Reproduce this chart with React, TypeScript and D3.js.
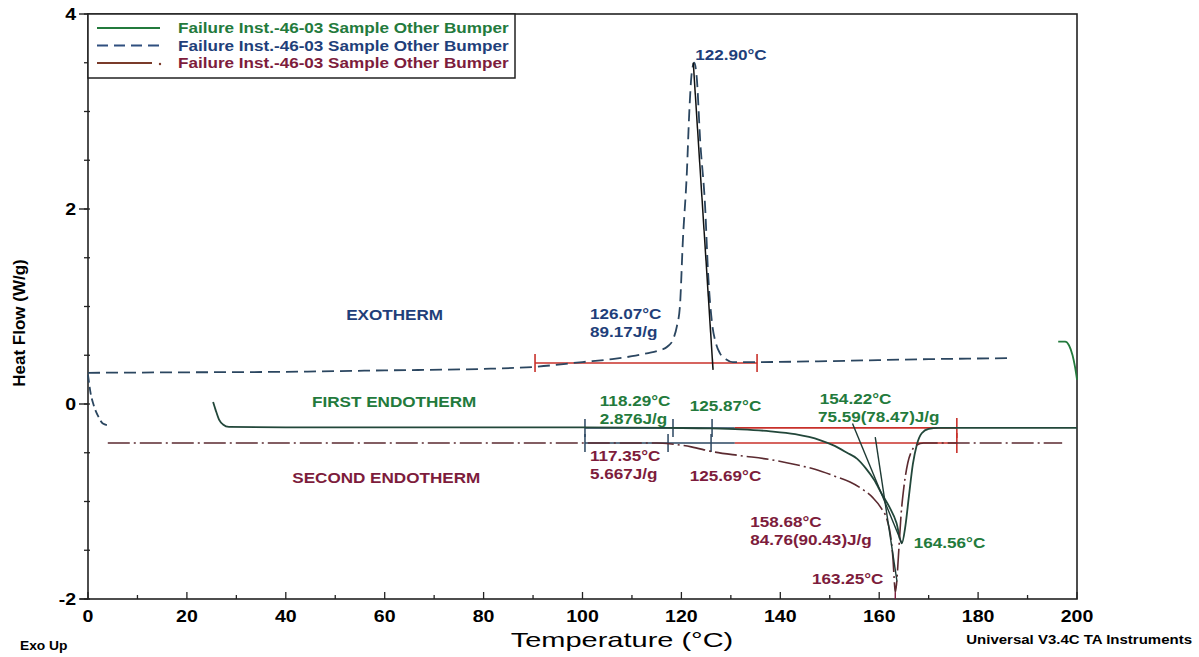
import React from "react";
import * as d3 from "d3";

// DSC thermogram, three runs on one set of axes
const exoTemp = [0, 20, 40, 60, 80, 90, 100, 106, 110, 113, 115.5, 117.2, 118.3, 119.1, 119.7, 120.3, 121.1, 121.6, 122.1, 122.6, 123.1, 123.8, 124.8, 125.4, 126.2, 127, 127.8, 129, 130.4, 135, 150, 170, 186.5];
const exoFlow = [0.32, 0.325, 0.33, 0.345, 0.36, 0.38, 0.43, 0.46, 0.49, 0.52, 0.55, 0.59, 0.66, 0.8, 1.0, 1.68, 2.37, 3.0, 3.4, 3.5, 3.35, 2.7, 2.02, 1.34, 0.83, 0.62, 0.52, 0.46, 0.43, 0.43, 0.44, 0.46, 0.47];

const exoStartTemp = [0, 0.5, 1.2, 2.2, 3.0, 4.2];
const exoStartFlow = [0.3, 0.12, -0.02, -0.14, -0.2, -0.22];

const firstTemp = [25.3, 25.8, 26.5, 27.3, 28.5, 40, 80, 100, 118, 126, 132, 138, 143, 148, 151, 153.5, 155.5, 157.3, 159, 160.5, 162, 163.5, 164.56, 165.3, 166, 166.8, 167.6, 168.6, 170, 172, 200];
const firstFlow = [0.02, -0.06, -0.16, -0.21, -0.235, -0.24, -0.24, -0.24, -0.245, -0.25, -0.26, -0.28, -0.31, -0.37, -0.43, -0.5, -0.56, -0.66, -0.78, -0.92, -1.05, -1.22, -1.43, -1.25, -0.95, -0.62, -0.42, -0.3, -0.255, -0.245, -0.245];

const firstEndTemp = [196.2, 197.6, 198.4, 199.1, 199.6, 200];
const firstEndFlow = [0.64, 0.64, 0.6, 0.5, 0.38, 0.25];

const secondTemp = [4, 20, 60, 100, 115, 118, 122, 126.4, 132, 138, 143, 147, 151, 154.1, 156.5, 158.7, 160.3, 161.6, 162.3, 162.8, 163.1, 163.25, 163.5, 163.9, 164.4, 165, 165.8, 166.6, 167.6, 169, 172, 197];
const secondFlow = [-0.4, -0.4, -0.4, -0.4, -0.4, -0.41, -0.44, -0.49, -0.53, -0.57, -0.62, -0.67, -0.74, -0.8, -0.87, -0.96, -1.06, -1.19, -1.35, -1.6, -1.85, -1.93, -1.85, -1.55, -1.15, -0.85, -0.6, -0.48, -0.42, -0.4, -0.4, -0.4];

// integration limits and tangents
const exoLimits = [90.4, 135.3];
const exoBase = 0.42;
const endoBase = [-0.245, -0.4];
const endoLimits = [100.5, 130.8, 175.7];
const firstPartialTicks = [100.5, 118.3, 126.2];
const secondPartialTicks = [100.5, 117.3, 126.0];
const exoTangent = [[122.4, 3.5], [126.4, 0.35]];
const firstTangent = [[154.6, -0.2], [164.6, -1.43]];
const secondTangent = [[159.2, -0.34], [163.6, -1.82]];

const xTicks = [0, 20, 40, 60, 80, 100, 120, 140, 160, 180, 200];
const yTicks = [-2, 0, 2, 4];
const legendLabels = [
  "Failure Inst.-46-03 Sample Other Bumper",
  "Failure Inst.-46-03 Sample Other Bumper",
  "Failure Inst.-46-03 Sample Other Bumper",
];

const GREEN_TXT = "#237a3c";
const BLUE_TXT = "#1f3f7a";
const RED_TXT = "#7d1c3c";
const GREEN_LN = "#22473a";
const BLUE_LN = "#2b4660";
const RED_LN = "#5b2a30";
const LIMIT = "#c8302a";

// [text, T, heat flow, colour]
const notes: [string, number, number, string][] = [
  ["122.90°C", 122.8, 3.53, BLUE_TXT],
  ["126.07°C", 101.5, 0.87, BLUE_TXT],
  ["89.17J/g", 101.5, 0.685, BLUE_TXT],
  ["EXOTHERM", 52.2, 0.86, BLUE_TXT],
  ["FIRST ENDOTHERM", 45.3, -0.03, GREEN_TXT],
  ["SECOND ENDOTHERM", 41.3, -0.81, RED_TXT],
  ["118.29°C", 103.5, -0.02, GREEN_TXT],
  ["2.876J/g", 103.5, -0.205, GREEN_TXT],
  ["125.87°C", 121.7, -0.07, GREEN_TXT],
  ["117.35°C", 101.5, -0.585, RED_TXT],
  ["5.667J/g", 101.5, -0.77, RED_TXT],
  ["125.69°C", 121.7, -0.79, RED_TXT],
  ["154.22°C", 148, 0.0, GREEN_TXT],
  ["75.59(78.47)J/g", 147.6, -0.185, GREEN_TXT],
  ["158.68°C", 133.9, -1.26, RED_TXT],
  ["84.76(90.43)J/g", 133.9, -1.445, RED_TXT],
  ["164.56°C", 167, -1.48, GREEN_TXT],
  ["163.25°C", 146.4, -1.85, RED_TXT],
];

const SX = 1.18;

function Label({ x, y, text, size, color = "#000", weight = "bold", anchor = "start", sx = SX }: any) {
  return (
    <text
      transform={`translate(${x},${y}) scale(${sx},1)`}
      fontSize={size}
      fill={color}
      fontWeight={weight}
      textAnchor={anchor}
      fontFamily="'Liberation Sans', Arial, sans-serif"
    >
      {text}
    </text>
  );
}

export default function App() {
  const x = d3.scaleLinear().domain([0, 200]).range([88, 1077]);
  const y = d3.scaleLinear().domain([-2, 4]).range([599, 14]);

  const line = (ts: number[], vs: number[]) =>
    d3
      .line<number>()
      .x((_, i) => x(ts[i]))
      .y((v) => y(v))
      .curve(d3.curveMonotoneX)(vs) || "";

  const seg = (p: number[][]) =>
    d3.line<number[]>().x((d) => x(d[0])).y((d) => y(d[1]))(p) || "";

  const xMinor = d3.range(0, 201, 10);
  const yMinor = d3.range(-2, 4.01, 0.5);

  return (
    <svg width={1199} height={657} style={{ position: "absolute", left: 0, top: 0, background: "#fff" }}>
      {/* frame */}
      <rect x={x(0)} y={y(4)} width={x(200) - x(0)} height={y(-2) - y(4)} fill="none" stroke="#222" strokeWidth={1.6} />

      {/* y ticks */}
      {yMinor.map((v) => (
        <line key={"ym" + v} x1={x(0) - 4} x2={x(0) + 2} y1={y(v)} y2={y(v)} stroke="#222" strokeWidth={1.3} />
      ))}
      {yTicks.map((v) => (
        <g key={"y" + v}>
          <line x1={x(0) - 9} x2={x(0)} y1={y(v)} y2={y(v)} stroke="#222" strokeWidth={1.4} />
          <Label x={x(0) - 12} y={y(v) + 6} text={String(v)} size={17} anchor="end" sx={1.15} />
        </g>
      ))}

      {/* x ticks */}
      {xMinor.map((t) => (
        <line key={"xm" + t} x1={x(t)} x2={x(t)} y1={y(-2)} y2={y(-2) - (t % 20 === 0 ? 7 : 4)} stroke="#222" strokeWidth={1.3} />
      ))}
      <line x1={x(0) - 8} x2={x(0)} y1={y(-2)} y2={y(-2)} stroke="#222" strokeWidth={1.4} />
      {xTicks.map((t) => (
        <Label key={"xl" + t} x={x(t)} y={y(-2) + 23} text={String(t)} size={17} anchor="middle" sx={1.15} />
      ))}

      {/* axis titles */}
      <text
        transform={`translate(25,323) rotate(-90)`}
        fontSize={17}
        fontWeight="bold"
        textAnchor="middle"
        fontFamily="'Liberation Sans', Arial, sans-serif"
      >
        Heat Flow (W/g)
      </text>
      <Label x={622} y={647} text="Temperature (°C)" size={20} anchor="middle" weight="normal" sx={1.45} />
      <Label x={20} y={650} text="Exo Up" size={12} sx={1.15} />
      <Label x={1192} y={644} text="Universal V3.4C TA Instruments" size={12.5} anchor="end" sx={1.2} />

      {/* integration limits */}
      <line x1={x(exoLimits[0])} x2={x(exoLimits[1])} y1={y(exoBase)} y2={y(exoBase)} stroke={LIMIT} strokeWidth={1.6} />
      {exoLimits.map((t) => (
        <line key={"el" + t} x1={x(t)} x2={x(t)} y1={y(exoBase) - 9} y2={y(exoBase) + 9} stroke={LIMIT} strokeWidth={1.6} />
      ))}
      {endoBase.map((b, k) => (
        <g key={"eb" + k}>
          <line x1={x(endoLimits[0])} x2={x(endoLimits[1])} y1={y(b)} y2={y(b)} stroke={BLUE_LN} strokeWidth={1.5} />
          <line x1={x(endoLimits[1])} x2={x(endoLimits[2])} y1={y(b)} y2={y(b)} stroke={LIMIT} strokeWidth={1.6} />
          <line x1={x(endoLimits[2])} x2={x(endoLimits[2])} y1={y(b) - 10} y2={y(b) + 10} stroke={LIMIT} strokeWidth={1.6} />
          {(k === 0 ? firstPartialTicks : secondPartialTicks).map((t) => (
            <line key={"pt" + t} x1={x(t)} x2={x(t)} y1={y(b) - 9} y2={y(b) + 9} stroke={BLUE_LN} strokeWidth={1.5} />
          ))}
        </g>
      ))}

      {/* curves */}
      <path d={line(exoTemp, exoFlow)} fill="none" stroke={BLUE_LN} strokeWidth={1.8} strokeDasharray="12,6" />
      <path d={line(exoStartTemp, exoStartFlow)} fill="none" stroke={BLUE_LN} strokeWidth={1.8} strokeDasharray="8,4" />
      <path d={line(firstTemp, firstFlow)} fill="none" stroke={GREEN_LN} strokeWidth={1.8} />
      <path d={line(firstEndTemp, firstEndFlow)} fill="none" stroke={GREEN_TXT} strokeWidth={1.8} />
      <path d={line(secondTemp, secondFlow)} fill="none" stroke={RED_LN} strokeWidth={1.6} strokeDasharray="22,4,2,4" />

      {/* tangents */}
      <path d={seg(exoTangent)} stroke="#111" strokeWidth={1.5} fill="none" />
      <path d={seg(firstTangent)} stroke="#1e3a34" strokeWidth={1.4} fill="none" />
      <path d={seg(secondTangent)} stroke="#1e3a34" strokeWidth={1.4} fill="none" />
      <line x1={x(163.25)} x2={x(163.25)} y1={y(-1.93)} y2={y(-2)} stroke={RED_TXT} strokeWidth={1.4} />

      {/* annotations */}
      {notes.map(([t, tx, v, c], i) => (
        <Label key={"n" + i} x={x(tx)} y={y(v)} text={t} size={14.5} color={c} />
      ))}

      {/* legend */}
      <rect x={x(0)} y={y(4)} width={427} height={64} fill="#fff" stroke="#222" strokeWidth={1.5} />
      {legendLabels.map((l, i) => {
        const cy = y(4) + 14 + i * 17.5;
        const stroke = [GREEN_TXT, "#2f4f7f", "#7a3b2a"][i];
        const dash = ["", "11,6", "60,4,2,4"][i];
        return (
          <g key={"lg" + i}>
            <line x1={97} x2={i === 2 ? 152 : 160} y1={cy} y2={cy} stroke={stroke} strokeWidth={2} strokeDasharray={dash} />
            {i === 2 && <circle cx={160} cy={cy + 1} r={1.2} fill={stroke} />}
            <Label x={178} y={cy + 5} text={l} size={14.5} color={[GREEN_TXT, BLUE_TXT, RED_TXT][i]} />
          </g>
        );
      })}
    </svg>
  );
}
